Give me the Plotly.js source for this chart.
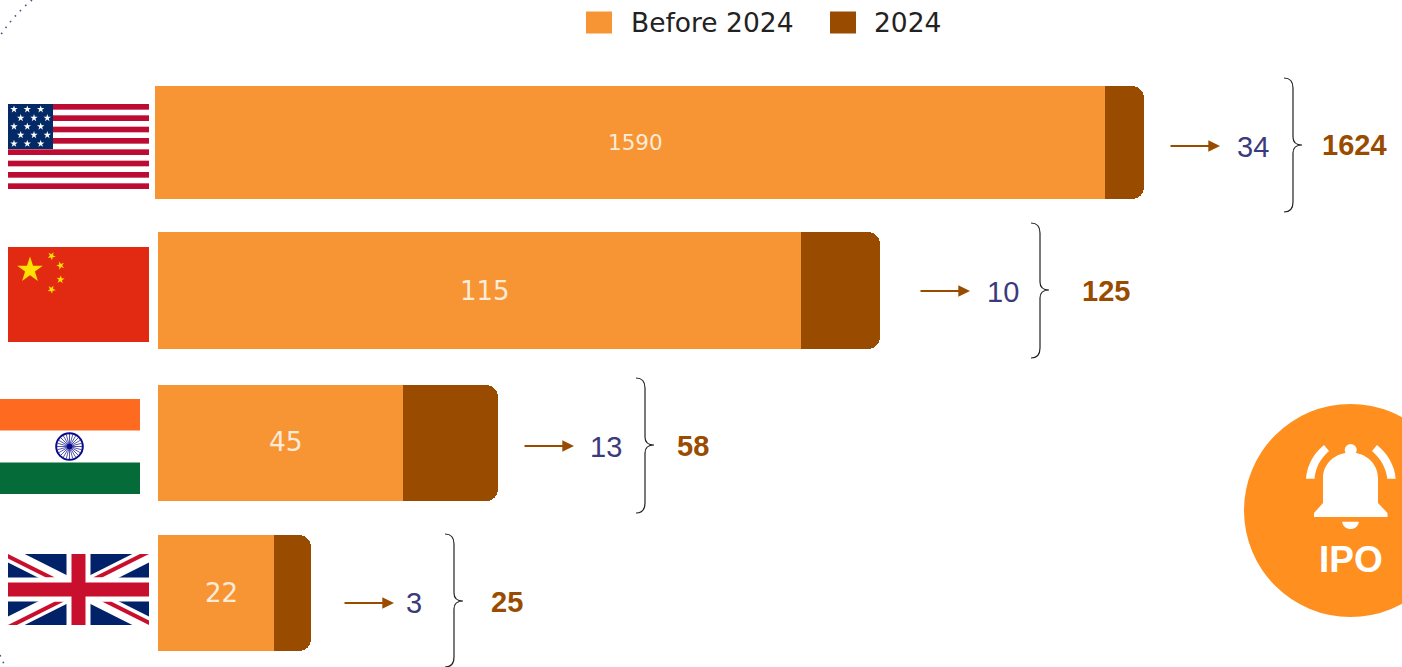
<!DOCTYPE html>
<html><head><meta charset="utf-8">
<script src="https://cdn.plot.ly/plotly-3.0.1.min.js"></script>
<style>html,body{margin:0;padding:0;background:#fff;overflow:hidden}#chart{width:1402px;height:667px}</style>
</head><body><div id="chart"></div>
<script>
// ---- Data ----
const countries = ["United States","China","India","United Kingdom"];
const labelsBefore = [1590,115,45,22];
const labels2024 = [34,10,13,3];
const totals = [1624,125,58,25];
// The reference bars are not to scale with their labels: these are the drawn lengths.
const drawnBefore = [947,643,245,116];
const drawn2024 = [39,79,95,37];
const seriesNames = ["Before 2024","2024"];

// ---- Styling and layout ----
const ORANGE="#F79433", BROWN="#994C00", INK="#3B3A7C";
const W=1402,H=667;
const origin=158;
const barWidths=[0.752,0.778,0.772,0.772];
const barOffsets=[-0.3686,-0.397,-0.379,-0.381];
const labelSizes=[21.5,26,26.5,26];
const labelXShift=[3.5,5,5,5], labelYShift=[-1,1,1,-1];
const arrowTips=[1220,970,574,394], arrowY=[146,291,446,603];
const countX=[1252.5,1002.5,605.5,414], countY=[147,292,447,603];
const braceX=[1284,1031,636,445], braceTop=[78,223,378,534], braceBot=[212,358,513,667], braceMid=[145,290,445,601];
const totalX=[1354,1106,693,507], totalY=[145,291,446,602];

const px=x=>x/W, py=y=>1-y/H;
function P(s){let i=0;return s.replace(/-?\d+(\.\d+)?/g,m=>{const v=+m;const r=(i%2===0)?px(v):py(v);i++;return r.toFixed(5);});}
function star(cx,cy,r,rot=0){let p=[];for(let i=0;i<10;i++){const R=i%2?r*0.382:r;const a=-Math.PI/2+rot+i*Math.PI/5;p.push((cx+R*Math.cos(a)).toFixed(2)+","+(cy+R*Math.sin(a)).toFixed(2));}return p.join(" ");}
const uri=(w,h,b)=>"data:image/svg+xml;charset=utf-8,"+encodeURIComponent(`<svg xmlns="http://www.w3.org/2000/svg" width="${w*3}" height="${h*3}" viewBox="0 0 ${w} ${h}">${b}</svg>`);

function usFlag(){let b=`<rect width="141" height="85" fill="#fff"/>`;const s=85/15;
 for(let i=0;i<8;i++)b+=`<rect y="${i*2*s}" width="141" height="${s}" fill="#BD0C33"/>`;
 b+=`<rect width="45" height="45" fill="#032A66"/>`;
 const ys=[5.3,14,22.5,31,39.7];
 ys.forEach((y,j)=>{const xs=j%2?[12.7,26,39.3]:[6,19.3,32.7];xs.forEach(x=>b+=`<polygon points="${star(x,y,3.9)}" fill="#fff"/>`);});
 return uri(141,85,b);}
function cnFlag(){let b=`<rect width="141" height="95" fill="#E12A11"/>`;
 b+=`<polygon points="${star(22,23,13.5)}" fill="#FFE000"/>`;
 [[43.5,9,0.5],[52.5,18.5,0.9],[52.5,32.5,0.1],[43.5,42.5,0.5]].forEach(a=>b+=`<polygon points="${star(a[0],a[1],4.3,a[2])}" fill="#FFE000"/>`);
 return uri(141,95,b);}
function inFlag(){let b=`<rect width="140" height="95" fill="#fff"/><rect width="140" height="31.5" fill="#FF6A21"/><rect y="63.5" width="140" height="31.5" fill="#056B39"/>`;
 b+=`<circle cx="69.5" cy="47.5" r="13.3" fill="#fff" stroke="#0B0B8C" stroke-width="2"/><circle cx="69.5" cy="47.5" r="2.8" fill="#0B0B8C"/>`;
 for(let i=0;i<24;i++){const a=i*Math.PI/12;b+=`<line x1="69.5" y1="47.5" x2="${(69.5+12.5*Math.cos(a)).toFixed(2)}" y2="${(47.5+12.5*Math.sin(a)).toFixed(2)}" stroke="#0B0B8C" stroke-width="0.7"/>`;}
 return uri(140,95,b);}
function ukFlag(){const w=141,h=71;const cx=70.5,cy=35.5;
 let b=`<rect width="${w}" height="${h}" fill="#012169"/>`;
 b+=`<path d="M0,0L${w},${h}M${w},0L0,${h}" stroke="#fff" stroke-width="15"/>`;
 b+=`<polygon points="0,0 47,23.5 38,23.5 0,4.5" fill="#C8102E"/><polygon points="141,71 94,47.5 103,47.5 141,66.5" fill="#C8102E"/>`;
 b+=`<polygon points="141,0 94,23.5 85,23.5 132,0" fill="#C8102E"/><polygon points="0,71 47,47.5 56,47.5 9,71" fill="#C8102E"/>`;
 b+=`<rect x="${cx-12}" width="24" height="${h}" fill="#fff"/><rect y="${cy-12}" width="${w}" height="24" fill="#fff"/>`;
 b+=`<rect x="${cx-7}" width="14" height="${h}" fill="#C8102E"/><rect y="${cy-7}" width="${w}" height="14" fill="#C8102E"/>`;
 return uri(w,h,b);}
function bell(){
 const b=`<g fill="#fff">
 <circle cx="50.7" cy="10" r="6"/>
 <path d="M23,38 C23,24 35,12.5 50.7,12.5 C66,12.5 78,24 78,38 L78,63 L87.5,73 L87.5,77 L14,77 L14,73 L23,63 Z"/>
 <path d="M42,81.7 L59,81.7 C58,86.5 54.5,89 50.5,89 C46.5,89 43,86.5 42,81.7 Z"/></g>
 <g fill="#fff"><path d="M6,38.7 C7,25 14,13 24,5 L29,11 C21,18 15.5,27 14.5,38.7 Z"/>
 <path d="M95.7,38.7 C94.7,25 87,13 77,5 L72,11 C80,18 86,27 87.3,38.7 Z"/></g>`;
 return uri(102,92,b);}

function img(src,x0,y0,x1,y1){return {source:src,xref:"paper",yref:"paper",x:px(x0),y:py(y0),sizex:px(x1-x0),sizey:(y1-y0)/H,xanchor:"left",yanchor:"top",sizing:"stretch",layer:"above"};}
function brace(x,t,b,m){const s=x+9,e=x+18;return {type:"path",xref:"paper",yref:"paper",line:{color:"#222",width:1.2},
 path:P(`M ${x} ${t} Q ${s} ${t} ${s} ${t+10} L ${s} ${m-8} Q ${s} ${m} ${e} ${m} Q ${s} ${m} ${s} ${m+8} L ${s} ${b-10} Q ${s} ${b} ${x} ${b}`)};}
function txt(t,x,y,size,color,opts={}){return Object.assign({text:t,xref:"paper",yref:"paper",x:px(x),y:py(y),xanchor:"center",yanchor:"middle",showarrow:false,font:{family:"Liberation Sans, Arial, sans-serif",size:size,color:color}},opts);}

const shapes=[
 {type:"circle",xref:"paper",yref:"paper",x0:px(1244),x1:px(1457),y0:py(617),y1:py(404),fillcolor:"#FF8F1F",line:{width:0},layer:"below"},
 {type:"rect",xref:"paper",yref:"paper",x0:px(586),x1:px(612),y0:py(33.5),y1:py(11.5),fillcolor:ORANGE,line:{width:0}},
 {type:"rect",xref:"paper",yref:"paper",x0:px(830),x1:px(856),y0:py(33.5),y1:py(11.5),fillcolor:BROWN,line:{width:0}},
 // the top bar's left edge sits a little left of the common baseline
 {type:"rect",xref:"paper",yref:"paper",x0:px(155),x1:px(158.5),y0:py(199),y1:py(86),fillcolor:ORANGE,line:{width:0}},
 {type:"path",xref:"paper",yref:"paper",line:{color:"#4A5580",width:1.6,dash:"1.6px,5.8px"},path:P("M 32 0 Q 13 16 0 36")},
 {type:"path",xref:"paper",yref:"paper",line:{color:"#4A5580",width:1.6,dash:"1.6px,5.8px"},path:P("M 0 655 L 4 664")},
];
countries.forEach((c,i)=>shapes.push(brace(braceX[i],braceTop[i],braceBot[i],braceMid[i])));

const legendFont={family:"DejaVu Sans, sans-serif",size:26.5,color:"#222"};
const annotations=[
 txt(seriesNames[0],629,22.5,26.5,"#222",{xanchor:"left",font:legendFont}),
 txt(seriesNames[1],872,22.5,26.5,"#222",{xanchor:"left",font:legendFont}),
 txt("<b>IPO</b>",1351,559,37,"#fff"),
];
countries.forEach((c,i)=>{
 annotations.push({text:String(labelsBefore[i]),xref:"x",yref:"y",x:drawnBefore[i]/2,y:c,xshift:labelXShift[i],yshift:labelYShift[i],showarrow:false,
   font:{family:"DejaVu Sans, sans-serif",size:labelSizes[i],color:"#FBEBD8"}});
 annotations.push({text:"",xref:"paper",yref:"paper",x:px(arrowTips[i]),y:py(arrowY[i]),ax:-51,ay:0,showarrow:true,arrowcolor:BROWN,arrowwidth:1.8,arrowhead:2,arrowsize:1.3,standoff:0});
 annotations.push(txt(String(labels2024[i]),countX[i],countY[i],29,INK));
 annotations.push(txt("<b>"+totals[i]+"</b>",totalX[i],totalY[i],29,BROWN));
});

const images=[
 img(usFlag(),8,104,149,189),
 img(cnFlag(),8,247,149,342),
 img(inFlag(),0,399,140,494),
 img(ukFlag(),8,554,149,625),
 img(bell(),1300,440,1402,532),
];

const traces=[
 {type:"bar",orientation:"h",name:seriesNames[0],y:countries,x:drawnBefore,width:barWidths,offset:barOffsets,marker:{color:ORANGE},hoverinfo:"skip",showlegend:false},
 {type:"bar",orientation:"h",name:seriesNames[1],y:countries,x:drawn2024,width:barWidths,offset:barOffsets,marker:{color:BROWN},hoverinfo:"skip",showlegend:false},
];
const layout={width:W,height:H,margin:{l:0,r:0,t:0,b:0,pad:0},paper_bgcolor:"#fff",plot_bgcolor:"rgba(0,0,0,0)",
 barmode:"stack",barcornerradius:12,showlegend:false,
 xaxis:{range:[-origin,W-origin],visible:false,fixedrange:true},
 yaxis:{type:"category",categoryorder:"array",categoryarray:countries,range:[3.497,-0.941],visible:false,fixedrange:true},
 shapes,annotations,images};
Plotly.newPlot("chart",traces,layout,{displayModeBar:false});
</script></body></html>
